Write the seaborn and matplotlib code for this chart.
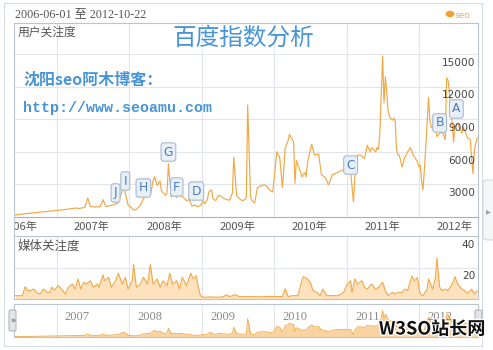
import numpy as np
import pandas as pd
import matplotlib
matplotlib.use("Agg")
import matplotlib.pyplot as plt
import matplotlib.dates as mdates
import matplotlib.patheffects as pe
from matplotlib.transforms import Bbox
from matplotlib.patches import FancyBboxPatch, Circle, Rectangle
from matplotlib.lines import Line2D
import seaborn as sns

# ---------------- data ----------------
start_date = "2006-06-01"
end_date = "2012-10-22"

# user attention (weekly index since start date)
user_week = [0, 4, 12, 19, 26, 30, 35, 40, 45, 47, 51, 53, 55, 58, 62, 64, 66, 69, 72, 75,
             76, 78, 79, 81, 82, 84, 86, 88, 91, 93, 95, 98, 100, 101, 103, 105, 106, 109, 110, 111,
             113, 115, 117, 119, 121, 124, 126, 128, 130, 132, 134, 136, 137, 139, 140, 142, 143, 145, 147, 149,
             151, 153, 155, 157, 158, 160, 162, 164, 166, 167, 168, 170, 171, 173, 175, 178, 180, 182, 184, 186,
             189, 191, 193, 195, 197, 198, 201, 202, 203, 206, 207, 209, 210, 211, 214, 216, 219, 221, 224, 226,
             229, 232, 236, 239, 242, 244, 245, 247, 249, 252, 254, 256, 257, 260, 261, 262, 263, 265, 266, 267,
             268, 269, 270, 272, 273, 274, 275, 276, 277, 279, 281, 283, 285, 287, 290, 291, 292, 293, 294, 295,
             297, 298, 299, 300, 303, 304, 306, 308, 310, 311, 312, 313, 315, 316, 317, 319, 321, 322, 323, 326,
             328, 329, 330, 331, 332, 333]
user_value = [150, 250, 350, 450, 550, 600, 650, 750, 830, 780, 900, 1750, 950, 920, 950, 1600, 950, 1050, 1150, 1300,
              1750, 2500, 2700, 1700, 1100, 900, 650, 700, 1100, 1700, 1900, 2000, 3300, 3700, 2900, 3300, 2400, 2000, 2200, 4900,
              1850, 2100, 1800, 2100, 1900, 1500, 1600, 1000, 1100, 950, 1050, 1500, 1200, 1600, 2300, 2500, 1700, 1500, 2000, 1900,
              1700, 1600, 1550, 2200, 5500, 2000, 1700, 1500, 1600, 1800, 10300, 1900, 1500, 1300, 2700, 2900, 2950, 2800, 2450, 2300,
              6000, 5500, 2700, 6400, 7000, 7600, 6900, 3100, 5200, 4100, 3700, 4100, 3700, 5000, 6700, 5700, 5800, 3900, 3600, 2950,
              3900, 4050, 4300, 4100, 4200, 1400, 3600, 5700, 5700, 5400, 6600, 6000, 6400, 6000, 6400, 6200, 7700, 14800, 10500, 12900,
              11400, 9700, 9200, 8900, 9100, 8900, 6200, 5700, 5700, 4600, 5500, 6000, 6400, 5700, 5100, 4600, 4800, 3400, 2500, 4300,
              8600, 11000, 8900, 8200, 8500, 7400, 7700, 7800, 7100, 12800, 12600, 11500, 8600, 6900, 8300, 8600, 8000, 7700, 8300, 7300,
              7100, 5400, 4000, 6200, 6800, 7300]

# media attention
media_week = [1, 6, 8, 10, 12, 14, 17, 19, 21, 24, 26, 27, 29, 32, 35, 37, 39, 42, 44, 46,
              48, 50, 52, 55, 57, 60, 61, 64, 65, 68, 70, 73, 75, 78, 80, 82, 85, 86, 88, 91,
              93, 96, 98, 100, 103, 105, 107, 110, 112, 114, 117, 119, 121, 124, 127, 129, 131, 132, 134, 136,
              141, 146, 150, 153, 155, 159, 162, 170, 177, 184, 193, 195, 197, 200, 204, 207, 208, 211, 213, 215,
              218, 220, 222, 225, 229, 233, 237, 239, 242, 243, 245, 247, 250, 252, 254, 257, 260, 262, 265, 267,
              269, 272, 274, 276, 279, 281, 283, 286, 288, 290, 292, 294, 297, 298, 301, 303, 304, 306, 308, 310,
              312, 315, 317, 319, 322, 324, 326, 329, 331, 333]
media_value = [2.1, 2.1, 7.8, 5.3, 5.3, 6.3, 3.6, 3.2, 6.3, 4.2, 4.2, 7.4, 5.7, 8.5, 5.3, 3.2, 7.4, 9.5, 6.3, 12.7,
               6.3, 10.6, 9.5, 11.6, 7.4, 9.5, 7.4, 15.4, 11.6, 13.8, 7.4, 11.6, 16.3, 9.5, 13.8, 6.3, 11.6, 21.8, 7.4, 9.5,
               13.8, 9.5, 21.8, 9.5, 12.7, 7.4, 11.6, 8.5, 16.3, 9.5, 11.6, 6.3, 13.8, 8.5, 16.3, 12.7, 14.8, 9.5, 2.1, 1.1,
               1.3, 1.1, 1.3, 2.8, 1.5, 2.8, 1.5, 1.5, 1.4, 1.6, 1.5, 6.5, 1.5, 2.1, 2.1, 11.6, 14.2, 12.7, 10.6, 5.3,
               4.2, 2.1, 6.3, 2.1, 2.1, 2.1, 4.2, 8.5, 11.6, 4.2, 12.7, 9.5, 11.6, 7.4, 6.3, 9.5, 6.3, 7.4, 10.6, 5.3,
               2.1, 4.2, 3.2, 4.2, 4.2, 6.3, 5.3, 14.5, 11.6, 13.5, 3.2, 2.1, 6.3, 12.7, 6.3, 13.8, 26.0, 7.4, 5.3, 6.3,
               5.3, 9.5, 14.2, 9.5, 6.3, 5.3, 3.6, 6.3, 3.2, 5.3]

# event markers
event_labels = ["J", "I", "H", "G", "F", "D", "C", "B", "A"]
event_week = [73, 80, 93, 111, 117, 131, 242, 306, 318]
event_height = [2210, 3310, 2670, 5980, 2760, 2390, 4780, 8650, 9940]

year_labels = ["2006年", "2007年", "2008年", "2009年", "2010年", "2011年", "2012年"]
nav_labels = ["2007", "2008", "2009", "2010", "2011", "2012"]
user_ticks = [3000, 6000, 9000, 12000, 15000]
media_ticks = [20, 40]

# ---------------- style ----------------
sns.set_style("white")
plt.rcParams["font.family"] = ["Noto Sans CJK SC", "DejaVu Sans"]

W, H = 493, 350
fig = plt.figure(figsize=(W / 100, H / 100), dpi=100)
fig.patch.set_facecolor("white")

ORANGE = "#f2a845"
FILL = "#fde2bd"
GRID = "#e2e5ea"
BORDER = "#bcc4cf"
BLUE = "#4795d8"
GRAY = "#555555"


def fx(x):
    return x / W


def fy(y):
    return 1 - y / H


def px_axes(x0, y0, x1, y1):
    return fig.add_axes([fx(x0), fy(y1), (x1 - x0) / W, (y1 - y0) / H])


start = pd.Timestamp(start_date)
end = pd.Timestamp(end_date)
user_df = pd.DataFrame({"date": start + pd.to_timedelta(np.array(user_week) * 7, unit="D"),
                        "value": user_value})
media_df = pd.DataFrame({"date": start + pd.to_timedelta(np.array(media_week) * 7, unit="D"),
                         "value": media_value})
jan_ticks = [pd.Timestamp(f"{y}-01-01") for y in range(2007, 2013)]

# outer frame
fig.add_artist(Rectangle((fx(4), fy(346)), 478 / W, 343 / H, transform=fig.transFigure,
                         fill=False, ec="#d5dbe3", lw=0.8))


def style_axes(ax):
    ax.set_facecolor("white")
    ax.set_xlim(start, end)
    ax.set_xticks(jan_ticks)
    ax.set_xticklabels([])
    ax.tick_params(length=0, labelleft=False, labelbottom=False)
    ax.grid(True, color=GRID, lw=0.8)
    ax.set_axisbelow(True)
    ax.set_xlabel("")
    ax.set_ylabel("")
    for s in ax.spines.values():
        s.set_color(BORDER)
        s.set_linewidth(0.8)


# ---------------- main panel ----------------
ax1 = px_axes(14, 23, 478, 217)
sns.lineplot(data=user_df, x="date", y="value", ax=ax1, color=ORANGE, linewidth=0.85)
style_axes(ax1)
ax1.set_ylim(0, 17850)
ax1.set_yticks(user_ticks)
ax1.set_yticklabels([])
ax1.spines["bottom"].set_color("#a9b0ba")
for v in user_ticks:
    ax1.annotate(str(v), xy=(1, v), xycoords=("axes fraction", "data"), xytext=(-2, -2.8),
                 textcoords="offset points", ha="right", va="top", fontsize=7.6,
                 color="#444444", family="DejaVu Sans")
for lab, wk, h in zip(event_labels, event_week, event_height):
    d = mdates.date2num(start + pd.Timedelta(days=7 * wk))
    ax1.text(d, h, lab, ha="center", va="center", fontsize=8.8, color="#4a7cbf",
             family="DejaVu Sans",
             bbox=dict(boxstyle="round,pad=0.22", fc="#e9eff7", ec="#a9bad0", lw=0.8))
ax1.text(0.007, 0.985, "用户关注度", transform=ax1.transAxes, ha="left", va="top",
         fontsize=8.5, color=GRAY)

# year labels below main panel
clip = Bbox.from_extents(14, 0, W, H)
for i, lab in enumerate(year_labels):
    d = mdates.date2num(pd.Timestamp(f"{2006 + i}-06-28"))
    t = ax1.annotate(lab, xy=(d, 0), xycoords=("data", "axes fraction"), xytext=(0, -7.3),
                     textcoords="offset points", ha="center", va="center", fontsize=8,
                     color=GRAY, annotation_clip=False)
    t.set_clip_on(True)
    t.set_clip_box(clip)

# side borders of label strip
fig.add_artist(Line2D([fx(14), fx(14)], [fy(217), fy(236)], transform=fig.transFigure,
                      color=BORDER, lw=0.8))
fig.add_artist(Line2D([fx(478), fx(478)], [fy(217), fy(236)], transform=fig.transFigure,
                      color=BORDER, lw=0.8))

# ---------------- media panel ----------------
ax2 = px_axes(14, 236, 478, 299)
ax2.fill_between(media_df["date"], media_df["value"], color=FILL, lw=0)
sns.lineplot(data=media_df, x="date", y="value", ax=ax2, color=ORANGE, linewidth=0.8)
style_axes(ax2)
ax2.set_ylim(0, 40)
ax2.set_yticks(media_ticks)
ax2.set_yticklabels([])
for v in media_ticks:
    ax2.annotate(str(v), xy=(1, v), xycoords=("axes fraction", "data"), xytext=(-2, -2.8),
                 textcoords="offset points", ha="right", va="top", fontsize=7.6,
                 color="#444444", family="DejaVu Sans")
ax2.text(0.007, 0.94, "媒体关注度", transform=ax2.transAxes, ha="left", va="top",
         fontsize=9, color=GRAY)

# ---------------- navigator ----------------
ax3 = px_axes(14, 304, 478, 337)
ax3.fill_between(user_df["date"], user_df["value"], color="#f9d4a2", lw=0)
sns.lineplot(data=user_df, x="date", y="value", ax=ax3, color=ORANGE, linewidth=0.6)
style_axes(ax3)
ax3.set_ylim(0, 18500)
ax3.set_yticks([])
ax3.grid(False, axis="y")
for lab, d in zip(nav_labels, jan_ticks):
    ax3.annotate(lab, xy=(mdates.date2num(d), 1), xycoords=("data", "axes fraction"),
                 xytext=(6, -9.5), textcoords="offset points", ha="left", va="center",
                 fontsize=9, color="#8a8a8a", family="Liberation Serif")

# navigator handles
for x0 in (9, 475):
    fig.add_artist(FancyBboxPatch((fx(x0), fy(331)), 7 / W, 21 / H, transform=fig.transFigure,
                                  boxstyle="round,pad=0,rounding_size=0.004",
                                  fc="#e4e6ea", ec="#a8acb3", lw=0.7))
fig.text(fx(12.5), fy(321), "»", ha="center", va="center", fontsize=6, color="#555555",
         family="DejaVu Sans")

# ---------------- header texts ----------------
fig.text(fx(15), fy(14), "2006-06-01 至 2012-10-22", ha="left", va="center", fontsize=8.7,
         color=GRAY, family=["Liberation Serif", "Noto Sans CJK SC"])
fig.add_artist(Circle((fx(450), fy(14)), 3.6 / W, transform=fig.transFigure, color="#f4a030"))
fig.text(fx(455), fy(15), "seo", ha="left", va="center", fontsize=6.5, color="#e2aa75",
         family="DejaVu Sans")

fig.text(fx(243), fy(38), "百度指数分析", ha="center", va="center", fontsize=17, color=BLUE)
fig.text(fx(23), fy(80), "沈阳seo阿木博客：", ha="left", va="center", fontsize=11.5,
         color=BLUE, fontweight="bold")
fig.text(fx(23), fy(108), "http://www.seoamu.com", ha="left", va="center", fontsize=10.8,
         color=BLUE, family="Liberation Mono", fontweight="bold")

# right scroll tab
fig.add_artist(FancyBboxPatch((fx(483), fy(240)), 14 / W, 60 / H, transform=fig.transFigure,
                              boxstyle="round,pad=0,rounding_size=0.01",
                              fc="#f4f6f8", ec="#cfd5dd", lw=0.7))
fig.text(fx(488), fy(211), "▸", ha="center", va="center", fontsize=7, color="#9aa3ad",
         family="DejaVu Sans")

# watermark
fig.text(fx(432), fy(329), "W3SO站长网", ha="center", va="center", fontsize=13,
         color="#111111", fontweight="bold",
         path_effects=[pe.withStroke(linewidth=2, foreground="white")])

fig.savefig("out.png", dpi=100, facecolor="white")
